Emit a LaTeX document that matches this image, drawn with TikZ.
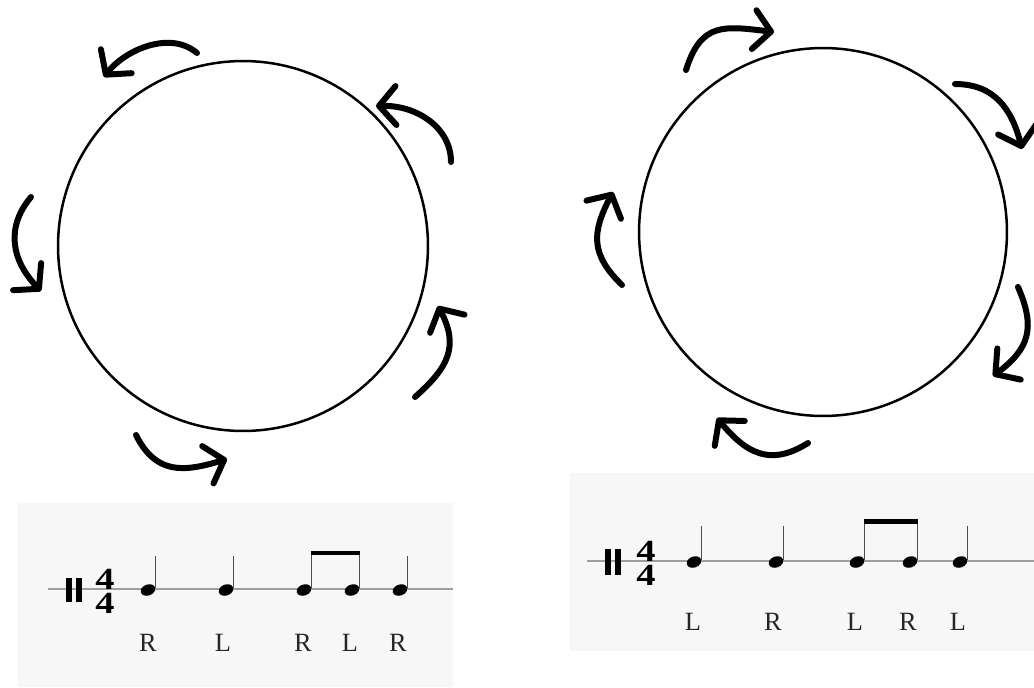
\documentclass[tikz,border=0pt]{standalone}
\usepackage{fontspec}
\setmainfont{Liberation Serif}
\usetikzlibrary{arrows.meta}
\definecolor{paper}{RGB}{247,247,247}
\definecolor{staffgray}{RGB}{158,158,158}

\begin{document}
\begin{tikzpicture}[x=0.02cm, y=-0.02cm]
	\tikzstyle{every node} = [inner sep=0pt, text=black!85, font=\fontsize{15}{17}\selectfont]
	\tikzstyle{drum} = [circle, draw=black, line width=0.05cm, minimum size=7.4cm]
	\tikzstyle{sticking} = [line width=0.12cm, line cap=round, -{Straight Barb[length=0.34cm, width=0.78cm, round]}]
	\tikzstyle{staff} = [draw=staffgray, line width=0.035cm]
	\tikzstyle{stem} = [draw=black!70, line width=0.03cm]
	\tikzstyle{timesig} = [align=center, text=black, font=\fontsize{17.5}{13.6}\selectfont\bfseries]
	\useasboundingbox (0,0) rectangle (1034,687);

	\node[drum] (left_drum) at (243,246) {};
	\node[drum, minimum size=7.36cm] (right_drum) at (823,232) {};

	%Hand-drawn turning arrows, left drum goes counterclockwise
	\draw[sticking] (197,53) .. controls (170,30) and (125,50) .. (104,77);
	\draw[sticking] (451,162) .. controls (451,127) and (416,105) .. (376,106);
	\draw[sticking] (31,197) .. controls (5,228) and (12,261) .. (41,291);
	\draw[sticking] (136,435) .. controls (156,475) and (184,472) .. (227,459);
	\draw[sticking] (415,397) .. controls (449,367) and (459,346) .. (438,306);

	%right drum goes clockwise
	\draw[sticking] (686,70) .. controls (701,22) and (724,26) .. (774,32);
	\draw[sticking] (955,84) .. controls (995,84) and (1012,110) .. (1022,149);
	\draw[sticking] (1018,287) .. controls (1036,328) and (1029,349) .. (993,376);
	\draw[sticking] (808,443) .. controls (770,467) and (746,453) .. (717,418);
	\draw[sticking] (622,285) .. controls (590,254) and (592,232) .. (613,192);

	%Left staff: R L RL R
	\fill[paper] (18,503) rectangle (453,687);
	\draw[staff] (48,589) -- (453,589);
	\fill (66,578) rectangle (71.5,602);
	\fill (76,578) rectangle (81.5,602);
	\node[timesig] (left_sig) at (105,591) {\scalebox{1.25}[1]{4}\\\scalebox{1.25}[1]{4}};
	\fill[rotate around={20:(148,590)}] (148,590) ellipse (7.5 and 5.5);
	\fill[rotate around={20:(226,590)}] (226,590) ellipse (7.5 and 5.5);
	\fill[rotate around={20:(304,590)}] (304,590) ellipse (7.5 and 5.5);
	\fill[rotate around={20:(352,590)}] (352,590) ellipse (7.5 and 5.5);
	\fill[rotate around={20:(400,590)}] (400,590) ellipse (7.5 and 5.5);
	\draw[stem] (155.5,588) -- (155.5,556);
	\draw[stem] (233.5,588) -- (233.5,556);
	\draw[stem] (311.5,588) -- (311.5,551);
	\draw[stem] (359.5,588) -- (359.5,551);
	\draw[stem] (407.5,588) -- (407.5,556);
	\fill (311,551) rectangle (360,555);
	\node (left_s1) at (148,643) {R};
	\node (left_s2) at (223,643) {L};
	\node (left_s3) at (303,643) {R};
	\node (left_s4) at (350,643) {L};
	\node (left_s5) at (398,643) {R};

	%Right staff: L R LR L
	\fill[paper] (570,473) rectangle (1034,651);
	\draw[staff] (587,561) -- (1034,561);
	\fill (605,549) rectangle (611,575);
	\fill (615,549) rectangle (621,575);
	\node[timesig] (right_sig) at (646,563) {\scalebox{1.25}[1]{4}\\\scalebox{1.25}[1]{4}};
	\fill[rotate around={20:(694,562)}] (694,562) ellipse (7.5 and 5.5);
	\fill[rotate around={20:(776,562)}] (776,562) ellipse (7.5 and 5.5);
	\fill[rotate around={20:(857,562)}] (857,562) ellipse (7.5 and 5.5);
	\fill[rotate around={20:(910,562)}] (910,562) ellipse (7.5 and 5.5);
	\fill[rotate around={20:(960,562)}] (960,562) ellipse (7.5 and 5.5);
	\draw[stem] (701.5,560) -- (701.5,526);
	\draw[stem] (783.5,560) -- (783.5,526);
	\draw[stem] (864.5,560) -- (864.5,519);
	\draw[stem] (917.5,560) -- (917.5,519);
	\draw[stem] (967.5,560) -- (967.5,526);
	\fill (864,519) rectangle (918,524);
	\node (right_s1) at (693,622) {L};
	\node (right_s2) at (773,622) {R};
	\node (right_s3) at (855,622) {L};
	\node (right_s4) at (908,622) {R};
	\node (right_s5) at (958,622) {L};
\end{tikzpicture}
\end{document}
